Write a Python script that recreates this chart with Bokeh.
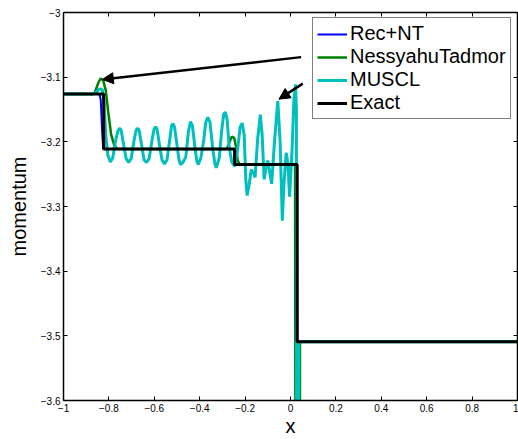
from bokeh.plotting import figure
from bokeh.models import (Range1d, LinearAxis, FixedTicker, Legend, LegendItem,
                          Arrow, NormalHead)
from bokeh.embed import file_html
from bokeh.resources import INLINE

# ---------------- data ----------------
x_ticks = [-1.0, -0.8, -0.6, -0.4, -0.2, 0.0, 0.2, 0.4, 0.6, 0.8, 1.0]
x_tick_labels = ["\u22121", "\u22120.8", "\u22120.6", "\u22120.4", "\u22120.2", "0",
                 "0.2", "0.4", "0.6", "0.8", "1"]
y_ticks = [-3.6, -3.5, -3.4, -3.3, -3.2, -3.1, -3.0]
y_tick_labels = ["\u22123.6", "\u22123.5", "\u22123.4", "\u22123.3", "\u22123.2", "\u22123.1", "\u22123"]

series_names = ["Rec+NT", "NessyahuTadmor", "MUSCL", "Exact"]

exact_x = [-1.0, -0.823, -0.823, -0.246, -0.246, 0.029, 0.029, 1.0]
exact_y = [-3.126, -3.126, -3.211, -3.211, -3.235, -3.235, -3.509, -3.509]

recnt_x = [-1.0, -0.842, -0.836, -0.829, -0.825, -0.248, -0.246, 0.030, 0.031, 1.0]
recnt_y = [-3.126, -3.126, -3.135, -3.189, -3.211, -3.211, -3.235, -3.235, -3.509, -3.509]

nt_x = [-1.0, -0.868, -0.860, -0.847, -0.836, -0.825, -0.814, -0.803, -0.790, -0.776,
        -0.763, -0.281, -0.270, -0.259, -0.248, -0.239, -0.233, -0.224, 0.020, 0.022,
        0.041, 0.042, 1.0]
nt_y = [-3.126, -3.126, -3.122, -3.109, -3.102, -3.105, -3.120, -3.154, -3.189, -3.206,
        -3.211, -3.211, -3.202, -3.192, -3.194, -3.209, -3.228, -3.235, -3.235, -3.7,
        -3.7, -3.509, -3.509]

muscl_x = [-1.0, -0.868, -0.855, -0.844, -0.836, -0.829, -0.822, -0.814, -0.805, -0.794,
           -0.783, -0.770, -0.759, -0.752, -0.746, -0.735, -0.724, -0.713, -0.702, -0.689,
           -0.680, -0.673, -0.667, -0.656, -0.645, -0.634, -0.623, -0.610, -0.601, -0.594,
           -0.588, -0.577, -0.566, -0.555, -0.544, -0.531, -0.524, -0.518, -0.511, -0.500,
           -0.491, -0.485, -0.474, -0.461, -0.450, -0.441, -0.432, -0.421, -0.412, -0.406,
           -0.395, -0.382, -0.373, -0.364, -0.355, -0.342, -0.333, -0.327, -0.314, -0.303,
           -0.294, -0.287, -0.279, -0.270, -0.259, -0.246, -0.233, -0.222, -0.213, -0.204,
           -0.197, -0.191, -0.182, -0.173, -0.162, -0.156, -0.145, -0.133, -0.125, -0.116,
           -0.108, -0.100, -0.092, -0.083, -0.070, -0.056, -0.046, -0.036, -0.029, -0.019,
           -0.011, -0.004, 0.007, 0.015, 0.022, 0.026, 0.027, 0.035, 0.037, 1.0]
muscl_y = [-3.126, -3.126, -3.123, -3.119, -3.118, -3.120, -3.135, -3.189, -3.220, -3.231,
           -3.225, -3.197, -3.182, -3.179, -3.182, -3.205, -3.226, -3.232, -3.226, -3.197,
           -3.182, -3.179, -3.182, -3.205, -3.228, -3.232, -3.226, -3.197, -3.180, -3.177,
           -3.180, -3.205, -3.228, -3.234, -3.228, -3.194, -3.175, -3.172, -3.177, -3.205,
           -3.228, -3.235, -3.232, -3.223, -3.185, -3.169, -3.175, -3.209, -3.231, -3.235,
           -3.225, -3.197, -3.169, -3.162, -3.169, -3.212, -3.234, -3.240, -3.225, -3.182,
           -3.157, -3.154, -3.166, -3.208, -3.231, -3.238, -3.212, -3.177, -3.171, -3.189,
           -3.258, -3.283, -3.266, -3.243, -3.249, -3.255, -3.197, -3.158, -3.189, -3.258,
           -3.240, -3.229, -3.246, -3.265, -3.197, -3.137, -3.197, -3.322, -3.266, -3.217,
           -3.235, -3.285, -3.212, -3.135, -3.111, -3.150, -3.7, -3.7, -3.509, -3.509]

# annotation arrows: (x_start, y_start, x_end, y_end)
arrow_nt = (0.047, -3.069, -0.829, -3.1035)
arrow_muscl = (0.054, -3.110, -0.051, -3.134)

# ---------------- figure ----------------
FONT = "Liberation Sans"

p = figure(width=518, height=439, x_range=Range1d(-1, 1), y_range=Range1d(-3.6, -3.0),
           output_backend="svg", toolbar_location=None,
           x_axis_location=None, y_axis_location=None,
           min_border_left=63, min_border_right=1, min_border_top=12, min_border_bottom=37)
p.grid.grid_line_color = None
p.outline_line_color = None
p.background_fill_color = "white"
p.border_fill_color = "white"


def make_axis(ticks, labels, show_labels):
    ax = LinearAxis(ticker=FixedTicker(ticks=ticks))
    ax.major_tick_in = 4
    ax.major_tick_out = 0
    ax.minor_tick_in = 0
    ax.minor_tick_out = 0
    ax.major_tick_line_color = "black"
    ax.axis_line_color = "black"
    ax.axis_line_width = 1.5
    if show_labels:
        ax.major_label_overrides = {t: l for t, l in zip(ticks, labels)}
        ax.major_label_text_font = FONT
        ax.major_label_text_font_size = "10px"
        ax.major_label_text_color = "black"
        ax.major_label_standoff = 3
        ax.axis_label_text_font = FONT
        ax.axis_label_text_font_size = "20px"
        ax.axis_label_text_font_style = "normal"
        ax.axis_label_text_color = "black"
        ax.axis_label_standoff = 0
    else:
        ax.major_label_text_font_size = "0px"
        ax.major_label_text_color = None
        ax.major_label_standoff = 0
    return ax


xb = make_axis(x_ticks, x_tick_labels, True)
xb.axis_label = "x"
yl = make_axis(y_ticks, y_tick_labels, True)
yl.axis_label = "momentum"
yl.axis_label_standoff = 8
xt = make_axis(x_ticks, x_tick_labels, False)
yr = make_axis(y_ticks, y_tick_labels, False)
p.add_layout(xb, "below")
p.add_layout(yl, "left")
p.add_layout(xt, "above")
p.add_layout(yr, "right")

r_rec = p.line(recnt_x, recnt_y, line_color="#0000FF", line_width=2)
r_nt = p.line(nt_x, nt_y, line_color="#008000", line_width=2.5)
r_mu = p.line(muscl_x, muscl_y, line_color="#00BFBF", line_width=3)
r_ex = p.line(exact_x, exact_y, line_color="black", line_width=3)

for (xs, ys, xe, ye) in (arrow_nt, arrow_muscl):
    p.add_layout(Arrow(end=NormalHead(size=11, fill_color="black", line_color="black"),
                       x_start=xs, y_start=ys, x_end=xe, y_end=ye,
                       line_color="black", line_width=2.5))

legend = Legend(items=[LegendItem(label=n, renderers=[r])
                       for n, r in zip(series_names, [r_rec, r_nt, r_mu, r_ex])],
                location=(249, 281))
legend.label_text_font = FONT
legend.label_text_font_size = "20px"
legend.label_text_color = "black"
legend.glyph_width = 30
legend.glyph_height = 22
legend.label_height = 22
legend.label_standoff = 3
legend.spacing = 0
legend.padding = 4
legend.margin = 0
legend.border_line_color = "black"
legend.border_line_width = 1
legend.background_fill_alpha = 1.0
p.add_layout(legend, "center")

open("out.html", "w").write(file_html(p, INLINE))
